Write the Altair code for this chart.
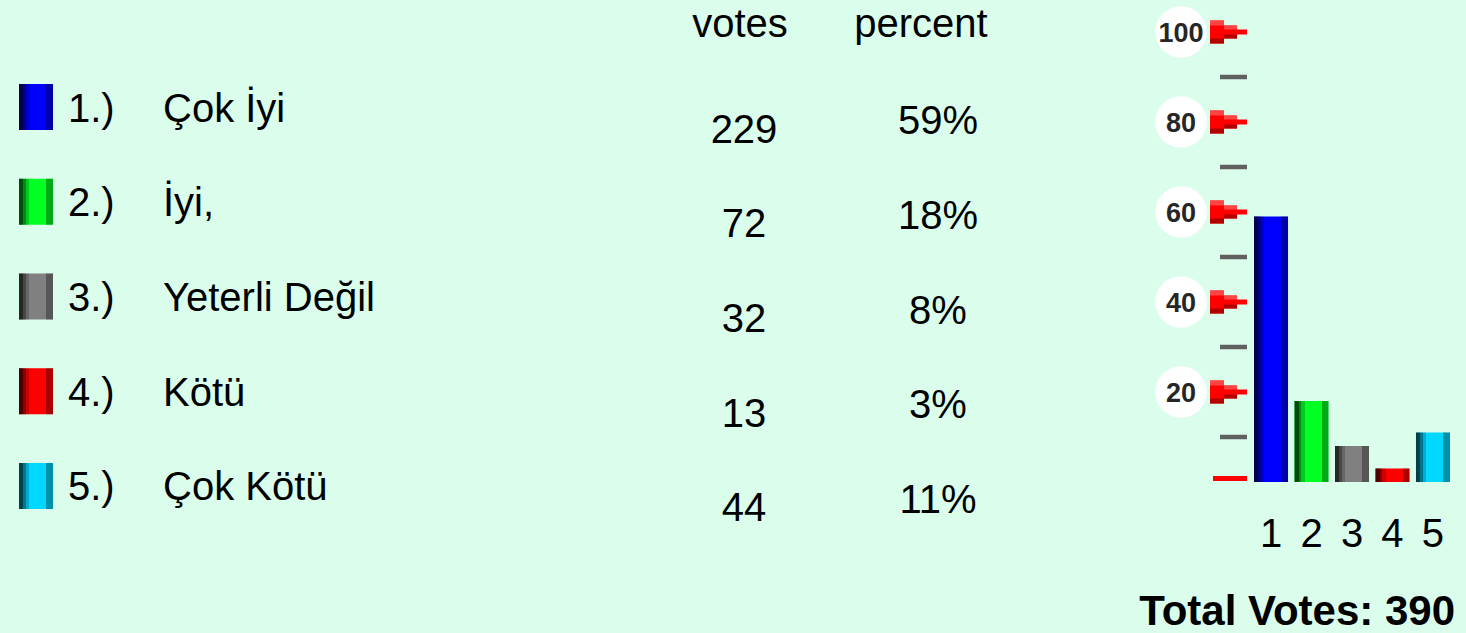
import altair as alt
import pandas as pd

# ---- data ----
numbers = ["1.)", "2.)", "3.)", "4.)", "5.)"]
options = ["Çok İyi", "İyi,", "Yeterli Değil", "Kötü", "Çok Kötü"]
votes = [229, 72, 32, 13, 44]
percents = [59, 18, 8, 3, 11]
bar_labels = ["1", "2", "3", "4", "5"]
colors = ["#0000ff", "#00ff22", "#808080", "#ff0000", "#00d8ff"]
major_ticks = [100, 80, 60, 40, 20]
minor_ticks = [90, 70, 50, 30, 10]
total_votes = 390

BG = "#dbfdeb"
FONT = "Liberation Sans"

df = pd.DataFrame({
    "num": numbers,
    "option": options,
    "votes": votes,
    "pct": percents,
    "pct_label": [f"{p}%" for p in percents],
    "cat": bar_labels,
    "row": list(range(5)),
})
major_df = pd.DataFrame({"tick": major_ticks, "label": [str(t) for t in major_ticks]})
minor_df = pd.DataFrame({"tick": minor_ticks})
zero_df = pd.DataFrame({"tick": [0]})

# ---- scales ----
row_scale = alt.Scale(type="band", domain=list(range(5)), range=[84, 509],
                      paddingInner=0.5145, paddingOuter=0)
cat_scale = alt.Scale(type="band", domain=bar_labels, range=[1254, 1450],
                      paddingInner=0.16, paddingOuter=0)
pct_scale = alt.Scale(domain=[0, 100], range=[482, 32])
color_scale = alt.Scale(domain=bar_labels, range=colors)

shade = alt.LinearGradient(
    gradient="linear", x1=0, x2=1, y1=0, y2=0,
    stops=[
        alt.GradientStop(offset=0, color="rgba(0,0,0,0.7)"),
        alt.GradientStop(offset=0.12, color="rgba(0,0,0,0.7)"),
        alt.GradientStop(offset=0.12, color="rgba(0,0,0,0.45)"),
        alt.GradientStop(offset=0.2, color="rgba(0,0,0,0.45)"),
        alt.GradientStop(offset=0.2, color="rgba(0,0,0,0.2)"),
        alt.GradientStop(offset=0.3, color="rgba(0,0,0,0.2)"),
        alt.GradientStop(offset=0.3, color="rgba(0,0,0,0)"),
        alt.GradientStop(offset=0.8, color="rgba(0,0,0,0)"),
        alt.GradientStop(offset=0.8, color="rgba(0,0,0,0.33)"),
        alt.GradientStop(offset=1, color="rgba(0,0,0,0.33)"),
    ],
)

base = alt.Chart(df)
Yrow = alt.Y("row:O", scale=row_scale, axis=None)

# legend swatches
swatch = base.mark_bar().encode(
    x=alt.value(19), x2=alt.value(53), y=Yrow,
    color=alt.Color("cat:N", scale=color_scale, legend=None),
)
swatch_shade = base.mark_bar(color=shade).encode(x=alt.value(19), x2=alt.value(53), y=Yrow)

txt = dict(font=FONT, fontSize=40, color="#000000", baseline="alphabetic")
num_text = base.mark_text(align="left", yOffset=14.5, **txt).encode(
    x=alt.value(68), y=Yrow, text="num:N")
opt_text = base.mark_text(align="left", yOffset=14.5, **txt).encode(
    x=alt.value(163), y=Yrow, text="option:N")
vote_text = base.mark_text(align="center", yOffset=35.5, **txt).encode(
    x=alt.value(744), y=Yrow, text="votes:Q")
pct_text = base.mark_text(align="center", yOffset=27, **txt).encode(
    x=alt.value(938), y=Yrow, text="pct_label:N")

hdr_votes = alt.Chart(pd.DataFrame({"h": ["votes"]})).mark_text(align="center", **txt).encode(
    x=alt.value(740), y=alt.value(37), text="h:N")
hdr_pct = alt.Chart(pd.DataFrame({"h": ["percent"]})).mark_text(align="center", **txt).encode(
    x=alt.value(921), y=alt.value(37), text="h:N")

# bar chart
Xcat = alt.X("cat:N", scale=cat_scale, axis=None)
Ypct = alt.Y("pct:Q", scale=pct_scale, axis=None)
bars = base.mark_bar().encode(
    x=Xcat, y=Ypct, y2=alt.datum(0),
    color=alt.Color("cat:N", scale=color_scale, legend=None),
)
bars_shade = base.mark_bar(color=shade).encode(x=Xcat, y=Ypct, y2=alt.datum(0))
cat_text = base.mark_text(align="center", **txt).encode(
    x=Xcat, y=alt.value(547), text="cat:N")

# y axis decorations
Ytick = alt.Y("tick:Q", scale=pct_scale, axis=None)
mj = alt.Chart(major_df)
circles = mj.mark_point(shape="circle", filled=True, color="#ffffff", opacity=1, size=2650).encode(
    x=alt.value(1181), y=Ytick)
circle_text = mj.mark_text(font=FONT, fontSize=27, fontWeight="bold", color="#262626",
                           align="center", baseline="alphabetic", yOffset=10).encode(
    x=alt.value(1181), y=Ytick, text="label:N")

def arrow_part(x1, x2, width, color, yoff=0):
    return mj.mark_rule(strokeWidth=width, color=color, yOffset=yoff, strokeCap="butt").encode(
        x=alt.value(x1), x2=alt.value(x2), y=Ytick)

arrow_layers = [
    arrow_part(1210, 1224, 23, "#ff0000"),
    arrow_part(1210, 1224, 5, "#ff4444", -9),
    arrow_part(1210, 1224, 5, "#b00000", 9),
    arrow_part(1224, 1237, 13, "#ff0000"),
    arrow_part(1224, 1237, 4, "#ff4444", -4.5),
    arrow_part(1224, 1237, 4, "#b00000", 4.5),
    arrow_part(1237, 1247, 5, "#ff0000"),
]
minor = alt.Chart(minor_df).mark_rule(strokeWidth=4.5, color="#606060", strokeCap="butt").encode(
    x=alt.value(1220), x2=alt.value(1247), y=Ytick)
zero = alt.Chart(zero_df).mark_rule(strokeWidth=5, color="#ff0000", strokeCap="butt", yOffset=-3.5).encode(
    x=alt.value(1213), x2=alt.value(1247), y=Ytick)

total = alt.Chart(pd.DataFrame({"t": [f"Total Votes:  {total_votes}"]})).mark_text(
    font=FONT, fontSize=42, fontWeight="bold", color="#000000",
    align="right", baseline="alphabetic").encode(
    x=alt.value(1455), y=alt.value(625), text="t:N")

chart = alt.layer(
    swatch, swatch_shade, num_text, opt_text, vote_text, pct_text, hdr_votes, hdr_pct,
    circles, circle_text, *arrow_layers, minor, zero,
    bars, bars_shade, cat_text, total,
).resolve_scale(x="independent", y="independent", color="shared").properties(
    width=1466, height=633, background=BG, padding=0,
    autosize=alt.AutoSizeParams(type="none"),
).configure_view(stroke=None)

chart.save("out.html", embed_options={"renderer": "svg", "actions": False})
